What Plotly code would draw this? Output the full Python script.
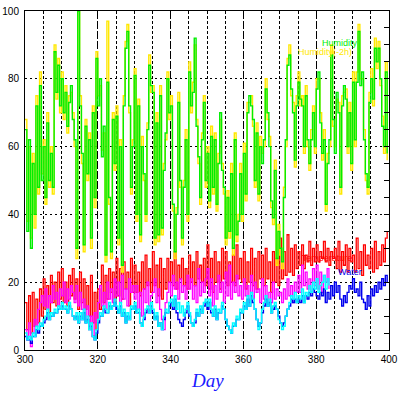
import plotly.graph_objects as go

# Sample times (days), two readings per day
start_day = 300
n_full = 200
days = [start_day + i * 0.5 for i in range(n_full)]

humidity = [
    65, 35, 62, 30, 55, 40, 72, 48, 78, 50,
    60, 45, 67, 50, 58, 48, 88, 76, 84, 72,
    80, 70, 76, 66, 73, 78, 68, 62, 30, 100,
    72, 58, 31, 66, 52, 62, 33, 70, 45, 86,
    72, 80, 57, 66, 28, 79, 45, 29, 68, 55,
    69, 33, 60, 25, 72, 89, 94, 72, 48, 60,
    81, 40, 72, 34, 60, 52, 40, 65, 84, 78,
    76, 33, 67, 34, 75, 36, 53, 64, 80, 70,
    72, 43, 29, 40, 73, 50, 33, 48, 62, 40,
    82, 72, 76, 92, 66, 57, 45, 62, 73, 50,
    58, 44, 63, 48, 62, 43, 55, 70, 53, 48,
    33, 45, 35, 52, 30, 62, 34, 38, 52, 40,
    58, 46, 70, 75, 72, 68, 50, 64, 46, 60,
    55, 62, 77, 70, 60, 44, 39, 53, 27, 35,
    30, 26, 45, 62, 84, 87, 77, 70, 56, 72,
    79, 74, 72, 60, 75, 62, 55, 62, 70, 60,
    77, 82, 67, 58, 62, 43, 55, 62, 87, 68,
    58, 76, 70, 48, 72, 78, 74, 60, 70, 55,
    79, 62, 79, 94, 78, 82, 62, 52, 48, 73,
    80, 74, 89, 85, 89, 80, 66, 60, 82, 58,
]

humidity_2h = [
    68, 38, 60, 33, 58, 36, 75, 46, 82, 52,
    62, 43, 70, 48, 60, 46, 90, 74, 86, 70,
    82, 68, 78, 64, 75, 76, 70, 60, 27, 100,
    75, 55, 29, 68, 50, 64, 30, 72, 42, 88,
    75, 78, 59, 64, 26, 97, 43, 27, 70, 53,
    72, 31, 62, 23, 75, 91, 96, 70, 46, 62,
    83, 38, 74, 32, 63, 50, 38, 67, 87, 76,
    78, 31, 70, 32, 78, 34, 55, 62, 82, 68,
    75, 41, 27, 42, 76, 48, 31, 50, 65, 38,
    85, 70, 79, 90, 68, 55, 43, 64, 75, 48,
    60, 42, 66, 46, 64, 41, 58, 68, 55, 46,
    31, 47, 33, 55, 28, 64, 32, 40, 55, 38,
    61, 44, 73, 73, 75, 66, 48, 67, 44, 63,
    58, 60, 80, 68, 63, 42, 37, 56, 25, 37,
    28, 24, 48, 60, 86, 90, 75, 73, 54, 75,
    82, 72, 75, 58, 78, 60, 53, 65, 72, 58,
    80, 80, 70, 56, 65, 41, 58, 60, 90, 66,
    60, 74, 73, 46, 75, 76, 77, 58, 73, 53,
    82, 60, 82, 96, 80, 80, 65, 50, 46, 76,
    83, 72, 92, 83, 91, 78, 69, 58, 85, 56,
]

temperature = [
    14, 6, 16, 5, 17, 7, 15, 8, 18, 10,
    21, 12, 19, 11, 22, 14, 20, 13, 23, 15,
    24, 14, 20, 13, 22, 16, 24, 15, 21, 12,
    23, 14, 21, 12, 19, 10, 22, 8, 17, 6,
    18, 12, 25, 14, 22, 15, 24, 17, 23, 14,
    27, 16, 24, 15, 26, 18, 23, 13, 27, 17,
    25, 17, 23, 16, 26, 18, 28, 19, 24, 17,
    29, 19, 25, 16, 27, 15, 24, 18, 27, 20,
    26, 19, 29, 18, 25, 21, 27, 19, 24, 18,
    28, 20, 26, 19, 29, 21, 25, 20, 27, 19,
    31, 18, 27, 17, 29, 20, 26, 18, 30, 21,
    29, 19, 26, 20, 28, 19, 31, 21, 27, 20,
    29, 18, 26, 20, 30, 19, 27, 18, 29, 21,
    28, 19, 30, 21, 26, 17, 29, 20, 27, 19,
    33, 21, 29, 22, 34, 23, 30, 22, 31, 24,
    29, 25, 31, 24, 28, 26, 32, 25, 30, 26,
    31, 26, 29, 27, 32, 26, 30, 25, 29, 27,
    30, 24, 32, 23, 29, 25, 31, 23, 30, 26,
    28, 23, 33, 24, 29, 22, 31, 25, 28, 24,
    30, 23, 32, 24, 29, 25, 31, 26, 33, 35,
]

magenta_series = [
    6, 3, 8, 1, 5, 9, 7, 12, 14, 16,
    13, 18, 12, 16, 14, 19, 15, 17, 13, 18,
    16, 20, 14, 18, 15, 19, 17, 14, 19, 13,
    17, 12, 15, 9, 13, 7, 10, 4, 11, 8,
    14, 19, 13, 17, 12, 20, 15, 18, 14, 21,
    16, 20, 14, 22, 15, 18, 13, 21, 17, 19,
    15, 19, 12, 17, 10, 18, 14, 20, 13, 16,
    17, 21, 14, 18, 12, 9, 6, 14, 17, 20,
    16, 22, 18, 20, 15, 21, 17, 19, 15, 22,
    18, 21, 15, 19, 14, 24, 16, 20, 17, 21,
    24, 16, 21, 13, 19, 15, 22, 17, 20, 14,
    23, 16, 25, 15, 20, 17, 22, 16, 19, 15,
    21, 16, 19, 14, 22, 15, 20, 17, 18, 14,
    21, 15, 19, 13, 17, 14, 20, 15, 18, 16,
    17, 14, 18, 15, 21, 16, 19, 14, 20, 17,
    22, 17, 25, 19, 23, 18, 21, 17, 24, 19,
    25, 18, 23, 17, 22, 20, 24, 18,
]

cyan_series = [
    5, 3, 4, 3, 5, 4, 7, 6, 8, 7,
    9, 10, 12, 9, 11, 10, 12, 11, 13, 12,
    14, 12, 13, 11, 14, 12, 10, 9, 11, 8,
    11, 9, 12, 8, 10, 6, 8, 4, 3, 6,
    9, 11, 10, 13, 12, 11, 14, 12, 13, 15,
    13, 11, 14, 10, 12, 8, 11, 9, 13, 12,
    14, 11, 12, 8, 7, 10, 12, 13, 11, 14,
    12, 9, 11, 7, 8, 6, 10, 12, 11, 14,
    15, 13, 16, 12, 14, 11, 13, 10, 12, 14,
    11, 8, 7, 9, 12, 10, 13, 11, 14, 15,
    13, 15, 12, 10, 13, 9, 12, 11, 14, 12,
    9, 7, 6, 5, 8, 7, 10, 9, 12, 11,
    14, 12, 16, 13, 17, 15, 12, 9, 6, 8,
    12, 14, 16, 13, 15, 11, 13, 14, 12, 9,
    8, 6, 7, 10, 12, 14, 16, 15, 17, 14,
    16, 15, 18, 14, 17, 16, 19, 17, 20, 18,
    21, 17, 19, 20, 22, 18, 21, 19,
]

water = [
    4, 3, 3, 2, 4, 4, 6, 5, 7, 7,
    8, 9, 11, 9, 10, 10, 11, 11, 12, 12,
    13, 12, 12, 11, 13, 12, 10, 9, 10, 8,
    10, 9, 11, 8, 9, 6, 7, 4, 3, 5,
    8, 10, 10, 12, 11, 11, 13, 12, 13, 14,
    12, 11, 13, 10, 11, 8, 10, 9, 12, 12,
    13, 11, 11, 8, 7, 9, 11, 12, 11, 13,
    11, 9, 10, 7, 8, 6, 9, 11, 11, 13,
    14, 12, 15, 11, 9, 8, 7, 9, 11, 13,
    10, 8, 7, 8, 11, 10, 12, 11, 13, 14,
    12, 14, 11, 10, 12, 9, 11, 11, 13, 12,
    9, 7, 6, 5, 7, 7, 9, 9, 11, 11,
    13, 12, 15, 13, 16, 14, 12, 9, 7, 8,
    11, 13, 15, 13, 14, 11, 12, 13, 12, 10,
    8, 7, 8, 10, 12, 13, 15, 14, 15, 14,
    15, 14, 16, 14, 16, 15, 17, 16, 18, 17,
    16, 15, 17, 16, 18, 14, 17, 15, 19, 16,
    20, 17, 19, 15, 13, 16, 14, 17, 19, 18,
    21, 17, 18, 16, 20, 15, 14, 12, 16, 13,
    18, 16, 19, 17, 20, 18, 21, 19, 22, 20,
]

x_ticks = [300, 320, 340, 360, 380, 400]
y_ticks = [0, 20, 40, 60, 80, 100]

GREEN = "#00ee00"
YELLOW = "#ffe800"
RED = "#ff0000"
MAGENTA = "#ff00ff"
CYAN = "#00ffff"
BLUE = "#0000ee"

fig = go.Figure()

# hidden label (drawn under the lines, as in the reference)
fig.add_trace(go.Scatter(x=[383], y=[27], mode="text", text=["Temperature"],
                         textfont=dict(family="Liberation Sans", size=9, color=RED),
                         showlegend=False, hoverinfo="skip"))


def add_line(xs, ys, color, width):
    fig.add_trace(go.Scatter(x=xs, y=ys, mode="lines", line=dict(color=color, width=width, shape="hv"),
                             showlegend=False, hoverinfo="skip"))


add_line(days, temperature, RED, 1.3)
add_line(days[:len(magenta_series)], magenta_series, MAGENTA, 1.3)
add_line(days, water, BLUE, 1.4)
add_line(days[:len(cyan_series)], cyan_series, CYAN, 1.4)
add_line(days, humidity_2h, YELLOW, 1.4)
add_line(days, humidity, GREEN, 1.4)

lab_font = "Liberation Sans"
fig.add_annotation(x=386.5, y=90.5, text="Humidity", showarrow=False,
                   font=dict(family=lab_font, size=9, color=GREEN))
fig.add_annotation(x=382.3, y=88.0, text="Humidity(-2h)", showarrow=False,
                   font=dict(family=lab_font, size=9, color=YELLOW))
fig.add_annotation(x=389.3, y=23, text="Water", showarrow=False,
                   font=dict(family=lab_font, size=9, color=BLUE))
fig.add_annotation(x=0.5, y=0, xref="paper", yref="paper", yanchor="middle", yshift=-30,
                   text="Day", showarrow=False,
                   font=dict(family="Liberation Serif", size=19, color="#1a1aff", style="italic"))

# invisible trace to host right-side ticks
fig.add_trace(go.Scatter(x=[300], y=[0], yaxis="y2", mode="markers", marker=dict(opacity=0),
                         showlegend=False, hoverinfo="skip"))

fig.update_layout(
    width=399, height=399,
    margin=dict(l=25, r=10, t=11, b=49, autoexpand=False),
    paper_bgcolor="white", plot_bgcolor="white",
    xaxis=dict(
        range=[300, 400], tickvals=x_ticks, ticktext=[str(v) for v in x_ticks],
        showgrid=True, gridcolor="black", gridwidth=1, griddash="5px,2px,1px,2px",
        minor=dict(dtick=5, tick0=300, showgrid=True, gridcolor="black", gridwidth=1, griddash="3px,2px"),
        showline=True, linecolor="black", linewidth=1, mirror=True,
        ticks="", zeroline=False, automargin=False,
        tickfont=dict(family="Liberation Sans", size=10, color="black"),
    ),
    yaxis=dict(
        range=[0, 100], tickvals=y_ticks,
        showgrid=True, gridcolor="black", gridwidth=1, griddash="2px,3px",
        showline=True, linecolor="black", linewidth=1, mirror=True,
        ticks="", zeroline=False, automargin=False,
        tickfont=dict(family="Liberation Sans", size=10, color="black"),
        ticklabelstandoff=3,
    ),
    yaxis2=dict(
        range=[0, 100], overlaying="y", side="right", showgrid=False,
        ticks="inside", dtick=5, ticklen=5, tickcolor="black", automargin=False,
        showticklabels=False, zeroline=False, showline=False,
    ),
    font=dict(family="Liberation Sans"),
)

fig.write_html("out.html", config={"displayModeBar": False},
               post_script="document.body.style.margin='0';")
